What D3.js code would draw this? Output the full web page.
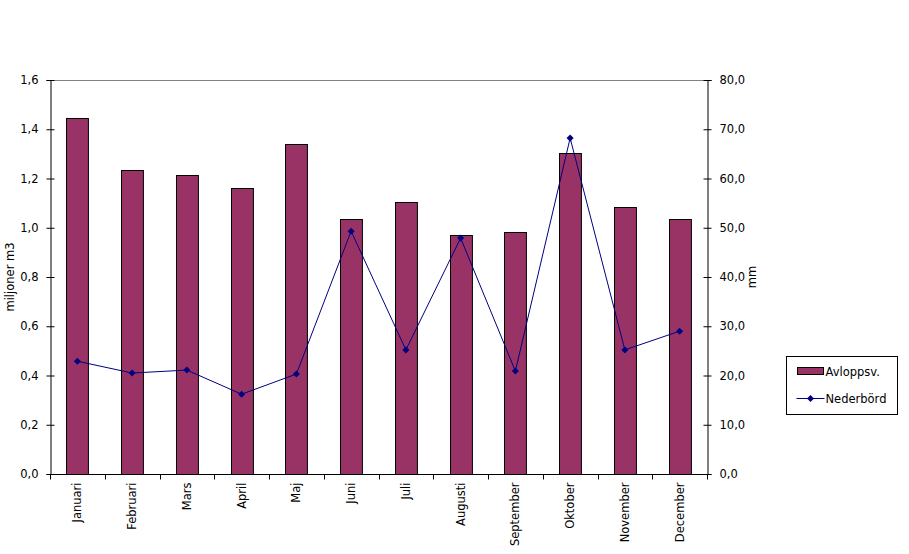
<!DOCTYPE html>
<html>
<head>
<meta charset="utf-8">
<script src="https://cdn.jsdelivr.net/npm/d3@7"></script>
<style>
  body { margin: 0; background: #fff; }
  text { font-family: "DejaVu Sans", sans-serif; font-size: 11.5px; fill: #000; }
</style>
</head>
<body>
<script>
const months = ["Januari", "Februari", "Mars", "April", "Maj", "Juni", "Juli", "Augusti", "September", "Oktober", "November", "December"];
const avlopp = [1.446, 1.234, 1.214, 1.161, 1.340, 1.036, 1.105, 0.971, 0.983, 1.304, 1.084, 1.036];
const nederbord = [22.9, 20.5, 21.1, 16.2, 20.3, 49.3, 25.2, 47.9, 20.9, 68.2, 25.2, 29.0];
const leftTicks = [0, 0.2, 0.4, 0.6, 0.8, 1.0, 1.2, 1.4, 1.6];
const rightTicks = [0, 10, 20, 30, 40, 50, 60, 70, 80];

const width = 909, height = 554;
const pLeft = 50, pRight = 707, pTop = 80, pBottom = 474;

const svg = d3.select("body").append("svg")
  .attr("width", width)
  .attr("height", height);

const x = d3.scaleBand().domain(months).range([pLeft, pRight]).paddingInner(0).paddingOuter(0);
const yL = d3.scaleLinear().domain([0, 1.6]).range([pBottom, pTop]);
const yR = d3.scaleLinear().domain([0, 80]).range([pBottom, pTop]);
const comma = (d, n) => d.toFixed(n).replace(".", ",");

// top border line
svg.append("line")
  .attr("x1", pLeft).attr("x2", pRight)
  .attr("y1", pTop + 0.5).attr("y2", pTop + 0.5)
  .attr("stroke", "#808080");

// bars
const barW = x.bandwidth() * 0.4;
svg.selectAll("rect.bar")
  .data(avlopp)
  .enter().append("rect")
  .attr("class", "bar")
  .attr("x", (d, i) => Math.round(x(months[i]) + (x.bandwidth() - barW) / 2) + 0.5)
  .attr("y", d => Math.round(yL(d)) + 0.5)
  .attr("width", barW)
  .attr("height", d => pBottom - Math.round(yL(d)))
  .attr("fill", "#993366")
  .attr("stroke", "#000")
  .attr("stroke-width", 1);

// left axis
const axL = svg.append("g").attr("transform", `translate(${pLeft + 0.5},0)`)
  .call(d3.axisLeft(yL).tickValues(leftTicks).tickSize(4).tickFormat(d => comma(d, 1)));
axL.selectAll(".tick line").attr("x1", 4).attr("x2", -4);
axL.selectAll(".tick text").attr("x", -12);

// right axis
const axR = svg.append("g").attr("transform", `translate(${pRight + 0.5},0)`)
  .call(d3.axisRight(yR).tickValues(rightTicks).tickSize(4).tickFormat(d => comma(d, 1)));
axR.selectAll(".tick line").attr("x1", -4).attr("x2", 4);
axR.selectAll(".tick text").attr("x", 12);

// bottom axis
const axB = svg.append("g").attr("transform", `translate(0,${pBottom + 0.5})`);
axB.append("line").attr("x1", pLeft).attr("x2", pRight).attr("stroke", "#000");
axB.selectAll("line.tk")
  .data(d3.range(months.length + 1))
  .enter().append("line")
  .attr("class", "tk")
  .attr("x1", i => Math.round(pLeft + i * x.step()) + 0.5)
  .attr("x2", i => Math.round(pLeft + i * x.step()) + 0.5)
  .attr("y1", 0).attr("y2", 5)
  .attr("stroke", "#000");
axB.selectAll("text")
  .data(months)
  .enter().append("text")
  .attr("transform", d => `translate(${x(d) + x.bandwidth() / 2 + 4},8) rotate(-90)`)
  .attr("text-anchor", "end")
  .text(d => d);

[axL, axR].forEach(a => {
  a.select(".domain").attr("stroke", "#000");
  a.selectAll("text").style("font-family", "DejaVu Sans").style("font-size", "11.5px");
});

// line series
const line = d3.line()
  .x((d, i) => x(months[i]) + x.bandwidth() / 2)
  .y(d => yR(d));
svg.append("path")
  .datum(nederbord)
  .attr("d", line)
  .attr("fill", "none")
  .attr("stroke", "#000080")
  .attr("stroke-width", 1);

// diamond markers: rotated squares
const diamond = d3.symbol().type(d3.symbolSquare).size(25);
svg.selectAll("path.pt")
  .data(nederbord)
  .enter().append("path")
  .attr("class", "pt")
  .attr("d", diamond)
  .attr("transform", (d, i) => `translate(${x(months[i]) + x.bandwidth() / 2},${yR(d)}) rotate(45)`)
  .attr("fill", "#000080");

// axis titles
svg.append("text")
  .attr("transform", `translate(14,${(pTop + pBottom) / 2}) rotate(-90)`)
  .attr("text-anchor", "middle")
  .text("miljoner m3");
svg.append("text")
  .attr("transform", `translate(756,${(pTop + pBottom) / 2}) rotate(-90)`)
  .attr("text-anchor", "middle")
  .text("mm");

// legend
const lg = svg.append("g").attr("transform", "translate(786.5,356.5)");
lg.append("rect").attr("width", 111).attr("height", 58)
  .attr("fill", "#fff").attr("stroke", "#000");
lg.append("rect").attr("x", 11).attr("y", 11).attr("width", 26).attr("height", 7)
  .attr("fill", "#993366").attr("stroke", "#000");
lg.append("text").attr("x", 39).attr("y", 19).text("Avloppsv.");
lg.append("line").attr("x1", 10).attr("x2", 38).attr("y1", 42).attr("y2", 42)
  .attr("stroke", "#000080");
lg.append("path").attr("d", diamond).attr("transform", "translate(24,42) rotate(45)").attr("fill", "#000080");
lg.append("text").attr("x", 39).attr("y", 46).text("Nederbörd");
</script>
</body>
</html>
